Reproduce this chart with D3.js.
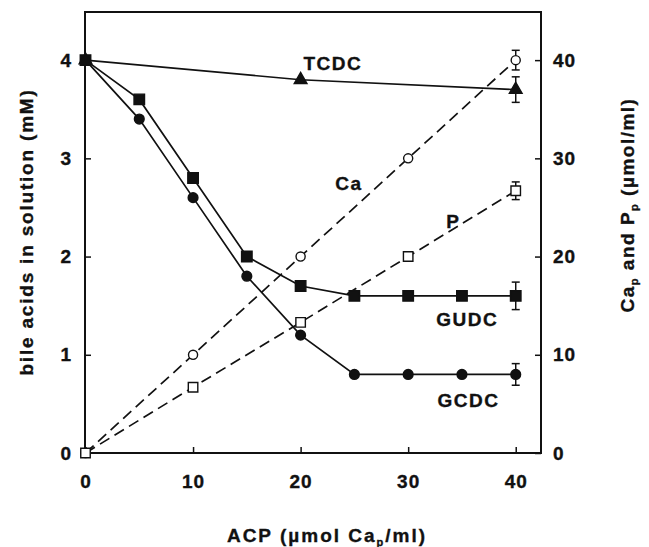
<!DOCTYPE html>
<html>
<head>
<meta charset="utf-8">
<script src="https://cdn.jsdelivr.net/npm/d3@7"></script>
<style>
  body { margin: 0; background: #fff; }
  text { font-family: "Liberation Sans", Arial, sans-serif; font-weight: bold; fill: #111; stroke: #111; stroke-width: 0.35px; }
</style>
</head>
<body>
<svg id="chart" width="649" height="547"></svg>
<script>
// bile acids in solution (mM), left axis
const acp = [0, 5, 10, 15, 20, 25, 30, 35, 40];
const gudc = [4, 3.6, 2.8, 2.0, 1.7, 1.6, 1.6, 1.6, 1.6];
const gcdc = [4, 3.4, 2.6, 1.8, 1.2, 0.8, 0.8, 0.8, 0.8];
const tcdcX = [0, 20, 40];
const tcdc = [4, 3.8, 3.7];

// Cap and Pp (umol/ml), right axis
const mineralX = [0, 10, 20, 30, 40];
const ca = [0, 10, 20, 30, 40];
const p = [0, 6.7, 13.3, 20, 26.7];

// error bars at the last point
const errTcdc = 0.13, errGudc = 0.14, errGcdc = 0.11, errCa = 1.0, errP = 0.9;

const xTicks = [0, 10, 20, 30, 40];
const leftTicks = [0, 1, 2, 3, 4];
const rightTicks = [0, 10, 20, 30, 40];

const margin = { top: 12, right: 108, bottom: 94, left: 85 },
      width = 649 - margin.left - margin.right,
      height = 547 - margin.top - margin.bottom;

const svg = d3.select("#chart");
const g = svg.append("g").attr("transform", `translate(${margin.left},${margin.top})`);

let x = d3.scaleLinear().domain([0, 42.35]).range([0.5, width]);
let y = d3.scaleLinear().domain([0, 4.49]).range([height, 0]);
let y2 = d3.scaleLinear().domain([0, 44.9]).range([height, 0]);

// frame
g.append("rect")
  .attr("x", 0).attr("y", 0)
  .attr("width", width).attr("height", height)
  .attr("fill", "none").attr("stroke", "#111").attr("stroke-width", 2);

// axes, ticks pointing inward
const xAxis = g.append("g").attr("transform", `translate(0,${height})`)
  .call(d3.axisBottom(x).tickValues(xTicks).tickFormat(d3.format("d")).tickSize(-6).tickPadding(22));
const yAxis = g.append("g")
  .call(d3.axisLeft(y).tickValues(leftTicks).tickFormat(d3.format("d")).tickSize(-6).tickPadding(13));
const y2Axis = g.append("g").attr("transform", `translate(${width},0)`)
  .call(d3.axisRight(y2).tickValues(rightTicks).tickFormat(d3.format("d")).tickSize(-6).tickPadding(12));

[xAxis, yAxis, y2Axis].forEach(a => {
  a.select(".domain").remove();
  a.selectAll("line").attr("stroke", "#111").attr("stroke-width", 1.5);
  a.selectAll("text").style("font-size", "19px").style("font-family", "Liberation Sans, Arial, sans-serif")
    .style("font-weight", "bold").style("letter-spacing", "1px").attr("fill", "#111");
});

// lines
const solid = (xs, ys, sc) => d3.line().x((d, i) => x(xs[i])).y(d => sc(d))(ys);

function drawLine(xs, ys, sc, dashed) {
  g.append("path")
    .attr("d", solid(xs, ys, sc))
    .attr("fill", "none")
    .attr("stroke", "#111")
    .attr("stroke-width", 1.7)
    .attr("stroke-dasharray", dashed ? "11,6" : null);
}

drawLine(mineralX, ca, y2, true);
drawLine(mineralX, p, y2, true);
drawLine(tcdcX, tcdc, y, false);
drawLine(acp, gudc, y, false);
drawLine(acp, gcdc, y, false);

// error bars
function errBar(xv, yv, e, sc) {
  const cx = x(xv);
  const eb = g.append("g").attr("stroke", "#111").attr("stroke-width", 1.5);
  eb.append("line").attr("x1", cx).attr("x2", cx).attr("y1", sc(yv - e)).attr("y2", sc(yv + e));
  eb.append("line").attr("x1", cx - 4).attr("x2", cx + 4).attr("y1", sc(yv - e)).attr("y2", sc(yv - e));
  eb.append("line").attr("x1", cx - 4).attr("x2", cx + 4).attr("y1", sc(yv + e)).attr("y2", sc(yv + e));
}
errBar(40, tcdc[2], errTcdc, y);
errBar(40, gudc[8], errGudc, y);
errBar(40, gcdc[8], errGcdc, y);
errBar(40, ca[4], errCa, y2);
errBar(40, p[4], errP, y2);

// markers
const sym = (type, size) => d3.symbol().type(type).size(size)();

function markers(xs, ys, sc, type, size, fill) {
  g.selectAll(null)
    .data(ys)
    .join("path")
    .attr("d", sym(type, size))
    .attr("transform", (d, i) => `translate(${x(xs[i])},${sc(d)})`)
    .attr("fill", fill)
    .attr("stroke", "#111")
    .attr("stroke-width", 1.4);
}

markers(mineralX, ca, y2, d3.symbolCircle, 65, "#fff");
markers(mineralX, p, y2, d3.symbolSquare, 90, "#fff");
markers(acp, gcdc, y, d3.symbolCircle, 75, "#111");
markers(acp, gudc, y, d3.symbolSquare, 110, "#111");
markers(tcdcX, tcdc, y, d3.symbolTriangle, 70, "#111");

// series labels
const labels = [
  { t: "TCDC", xv: 23, yv: 3.97, sc: y },
  { t: "Ca", xv: 24.5, yv: 27.5, sc: y2 },
  { t: "P", xv: 34.2, yv: 23.6, sc: y2 },
  { t: "GUDC", xv: 35.5, yv: 1.36, sc: y },
  { t: "GCDC", xv: 35.6, yv: 0.54, sc: y }
];
g.selectAll(null)
  .data(labels)
  .join("text")
  .attr("x", d => x(d.xv))
  .attr("y", d => d.sc(d.yv))
  .attr("text-anchor", "middle")
  .attr("dy", "0.35em")
  .style("font-size", "19px")
  .style("letter-spacing", "1.5px")
  .text(d => d.t);

// axis titles
const xt = svg.append("text")
  .attr("x", 327).attr("y", 542)
  .attr("text-anchor", "middle")
  .style("font-size", "19px")
  .style("letter-spacing", "2px");
xt.append("tspan").text("ACP (µmol Ca");
xt.append("tspan").attr("dy", 4).style("font-size", "11px").text("p");
xt.append("tspan").attr("dy", -4).text("/ml)");

svg.append("text")
  .attr("transform", "translate(33,232) rotate(-90)")
  .attr("text-anchor", "middle")
  .style("font-size", "19px")
  .style("letter-spacing", "1.8px")
  .text("bile acids in solution (mM)");

const rt = svg.append("text")
  .attr("transform", "translate(634,205) rotate(-90)")
  .attr("text-anchor", "middle")
  .style("font-size", "19px")
  .style("letter-spacing", "1.5px");
rt.append("tspan").text("Ca");
rt.append("tspan").attr("dy", 4).style("font-size", "11px").text("p");
rt.append("tspan").attr("dy", -4).text(" and P");
rt.append("tspan").attr("dy", 4).style("font-size", "11px").text("p");
rt.append("tspan").attr("dy", -4).text(" (µmol/ml)");
</script>
</body>
</html>
